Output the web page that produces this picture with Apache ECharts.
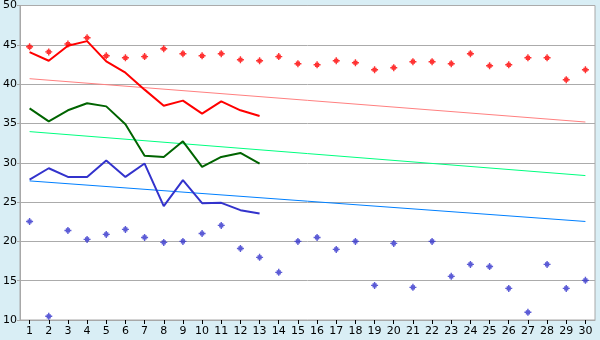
<!DOCTYPE html>
<html><head><meta charset="utf-8">
<script src="https://cdn.jsdelivr.net/npm/echarts@6/dist/echarts.min.js"></script>
<style>html,body{margin:0;padding:0;background:#D9EEF5;}#c{width:600px;height:340px;}</style>
</head><body><div id="c"></div>
<script>
const categories = ['1','2','3','4','5','6','7','8','9','10','11','12','13','14','15','16','17','18','19','20','21','22','23','24','25','26','27','28','29','30'];
const redPoints = [44.75,44.1,45.1,45.9,43.6,43.35,43.5,44.5,43.87,43.6,43.87,43.1,42.97,43.5,42.6,42.46,42.97,42.72,41.83,42.09,42.85,42.85,42.6,43.87,42.34,42.46,43.35,43.35,40.56,41.83];
const bluePoints = [22.53,10.47,21.39,20.25,20.89,21.52,20.5,19.87,20.0,21.0,22.03,19.1,17.97,16.06,20.0,20.5,18.98,20.0,14.4,19.74,14.15,20.0,15.55,17.07,16.8,14.02,10.98,17.07,14.02,15.04];
const redLine = [44.07,42.97,44.88,45.47,42.9,41.45,39.3,37.26,37.9,36.25,37.8,36.67,35.95];
const greenLine = [36.92,35.27,36.67,37.56,37.17,34.9,30.9,30.74,32.73,29.47,30.74,31.25,29.9];
const blueLine = [27.86,29.3,28.2,28.2,30.3,28.2,29.9,24.48,27.78,24.86,24.9,23.97,23.55];
const redTrend = [40.69,35.18];
const greenTrend = [33.96,28.37];
const blueTrend = [27.69,22.53];
const yTicks = [10,15,20,25,30,35,40,45,50];

const marker = 'path://M2,0H3V1H4V2H5V3H4V4H3V5H2V4H1V3H0V2H1V1H2Z';
const last = categories.length - 1;
function trend(t){ return [[categories[0], t[0]], [categories[last], t[1]]]; }

const chart = echarts.init(document.getElementById('c'), null, {renderer:'canvas'});
chart.setOption({
  backgroundColor:'#D9EEF5',
  animation:false,
  grid:{left:20,right:5,top:5,bottom:20,show:true,backgroundColor:'#FFFFFF',borderColor:'#A8A8A8',borderWidth:1,containLabel:false},
  xAxis:{type:'category',data:categories,boundaryGap:true,
    axisLine:{show:true,lineStyle:{color:'#A8A8A8'}},
    axisTick:{show:true,alignWithLabel:true,length:4,lineStyle:{color:'#000'}},
    axisLabel:{color:'#000',fontFamily:'DejaVu Sans',fontSize:11,margin:6,interval:0},
    splitLine:{show:false}},
  yAxis:{type:'value',min:yTicks[0],max:yTicks[yTicks.length-1],interval:5,
    axisLine:{show:true,lineStyle:{color:'#A8A8A8'}},
    axisTick:{show:true,length:3,lineStyle:{color:'#A8A8A8'}},
    axisLabel:{color:'#000',fontFamily:'DejaVu Sans',fontSize:11,margin:3},
    splitLine:{show:true,lineStyle:{color:'#ABABAB',width:1}}},
  series:[
    {type:'line',data:trend(redTrend),symbol:'none',lineStyle:{color:'#FF8080',width:1},z:2},
    {type:'line',data:trend(greenTrend),symbol:'none',lineStyle:{color:'#00FF80',width:1},z:2},
    {type:'line',data:trend(blueTrend),symbol:'none',lineStyle:{color:'#0080FF',width:1},z:2},
    {type:'line',data:redLine,symbol:'none',lineStyle:{color:'#FF0000',width:2},z:3},
    {type:'line',data:greenLine,symbol:'none',lineStyle:{color:'#006400',width:2},z:3},
    {type:'line',data:blueLine,symbol:'none',lineStyle:{color:'#3333CC',width:2},z:3},
    {type:'scatter',data:redPoints,symbol:marker,symbolSize:7,itemStyle:{color:'#FF0000'},z:4},
    {type:'scatter',data:bluePoints,symbol:marker,symbolSize:7,itemStyle:{color:'#3333CC'},z:4}
  ]
});
</script></body></html>
